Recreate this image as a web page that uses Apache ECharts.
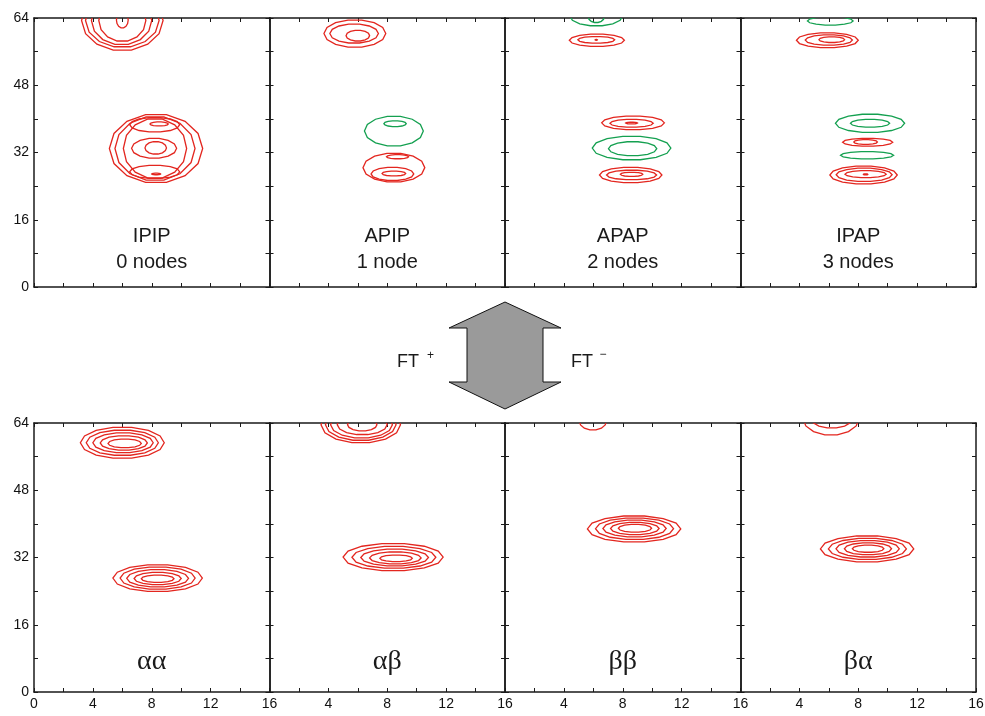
<!DOCTYPE html>
<html>
<head>
<meta charset="utf-8">
<script src="https://cdn.jsdelivr.net/npm/echarts@6/dist/echarts.min.js"></script>
<style>
html,body{margin:0;padding:0;background:#fff;}
#chart{width:985px;height:716px;}
</style>
</head>
<body>
<div id="chart"></div>
<script>
// Panel titles
const topTitles = ['IPIP', 'APIP', 'APAP', 'IPAP'];
const topSubtitles = ['0 nodes', '1 node', '2 nodes', '3 nodes'];
const bottomTitles = ['\u03b1\u03b1', '\u03b1\u03b2', '\u03b2\u03b2', '\u03b2\u03b1'];

// Axis ranges / ticks
const xTickLabels = [0, 4, 8, 12, 16];
const yTickLabels = [0, 16, 32, 48, 64];

// Contour levels per panel: [centre x, centre y, half-width x, half-height y, sign(0=positive red,1=negative green)]
const contoursIPIP = [
  [6.0, 63.4, 2.77, 7.2, 0], [6.0, 63.4, 2.5, 6.4, 0], [5.95, 63.4, 2.05, 5.8, 0], [6.0, 63.4, 1.6, 5.0, 0], [6.0, 63.5, 0.4, 1.9, 0],
  [8.29, 32.95, 3.17, 8.25, 0], [8.22, 32.95, 2.72, 7.7, 0], [8.22, 32.95, 2.15, 7.2, 0],
  [8.2, 38.6, 1.7, 1.75, 0], [8.16, 33.0, 1.53, 2.4, 0], [8.2, 27.4, 1.7, 1.6, 0],
  [8.27, 33.1, 0.73, 1.5, 0], [8.5, 38.8, 0.62, 0.5, 0], [8.3, 26.9, 0.3, 0.2, 0]
];
const contoursAPIP = [
  [5.8, 60.3, 2.1, 3.3, 0], [5.75, 60.3, 1.65, 2.3, 0], [6.0, 59.8, 0.8, 1.3, 0],
  [8.45, 37.1, 2.0, 3.6, 1], [8.53, 38.85, 0.76, 0.7, 1],
  [8.45, 28.4, 2.1, 3.5, 0], [8.7, 31.0, 0.75, 0.5, 0], [8.35, 26.9, 1.45, 1.6, 0], [8.45, 27.0, 0.8, 0.6, 0]
];
const contoursAPAP = [
  [6.2, 64.5, 1.8, 2.4, 1], [6.2, 64.3, 0.55, 1.4, 1],
  [6.24, 58.7, 1.87, 1.5, 0], [6.2, 58.8, 1.25, 0.8, 0], [6.2, 58.8, 0.08, 0.1, 0],
  [8.7, 39.05, 2.13, 1.65, 0], [8.6, 38.95, 1.47, 0.95, 0], [8.6, 39.0, 0.4, 0.2, 0],
  [8.6, 33.05, 2.67, 2.85, 1], [8.67, 32.9, 1.64, 1.7, 1],
  [8.54, 26.65, 2.12, 1.85, 0], [8.6, 26.65, 1.7, 1.15, 0], [8.6, 26.8, 0.76, 0.5, 0]
];
const contoursIPAP = [
  [6.1, 63.3, 1.55, 1.0, 1],
  [5.9, 58.7, 2.1, 1.8, 0], [6.0, 58.75, 1.6, 1.25, 0], [6.2, 58.85, 0.87, 0.7, 0],
  [8.8, 38.95, 2.35, 2.2, 1], [8.8, 38.95, 1.33, 0.95, 1],
  [8.64, 34.45, 1.7, 0.95, 0], [8.5, 34.5, 0.8, 0.6, 0],
  [8.6, 31.35, 1.8, 0.87, 1],
  [8.36, 26.65, 2.29, 2.15, 0], [8.4, 26.7, 1.9, 1.6, 0], [8.5, 26.85, 1.4, 0.85, 0], [8.5, 26.8, 0.15, 0.12, 0]
];
const contoursAA = [
  [6.0, 59.3, 2.85, 3.75, 0], [6.0, 59.3, 2.45, 3.05, 0], [6.05, 59.3, 2.05, 2.4, 0], [6.1, 59.25, 1.6, 1.75, 0], [6.16, 59.15, 1.13, 1.05, 0],
  [8.4, 27.1, 3.04, 3.25, 0], [8.4, 27.1, 2.55, 2.7, 0], [8.4, 27.05, 2.1, 2.1, 0], [8.4, 27.0, 1.6, 1.5, 0], [8.4, 26.95, 1.11, 0.87, 0]
];
const contoursAB = [
  [6.2, 63.6, 2.7, 4.4, 0], [6.2, 63.6, 2.4, 3.8, 0], [6.25, 63.6, 2.1, 3.2, 0], [6.3, 63.6, 1.7, 2.4, 0], [6.3, 63.6, 1.0, 1.5, 0],
  [8.4, 32.1, 3.4, 3.3, 0], [8.45, 32.05, 2.85, 2.65, 0], [8.5, 32.0, 2.3, 2.05, 0], [8.55, 31.9, 1.75, 1.45, 0], [8.6, 31.8, 1.1, 0.8, 0]
];
const contoursBB = [
  [5.97, 64.5, 0.93, 2.2, 0],
  [8.77, 38.8, 3.17, 3.15, 0], [8.8, 38.85, 2.65, 2.6, 0], [8.8, 38.9, 2.15, 2.05, 0], [8.82, 38.9, 1.65, 1.5, 0], [8.83, 38.95, 1.13, 0.95, 0]
];
const contoursBA = [
  [6.15, 65.0, 1.9, 3.9, 0], [6.2, 65.0, 1.4, 2.2, 0],
  [8.6, 34.05, 3.17, 3.15, 0], [8.62, 34.05, 2.65, 2.55, 0], [8.64, 34.07, 2.15, 2.0, 0], [8.66, 34.08, 1.6, 1.45, 0], [8.67, 34.1, 1.07, 0.87, 0]
];

const panels = [contoursIPIP, contoursAPIP, contoursAPAP, contoursIPAP, contoursAA, contoursAB, contoursBB, contoursBA];
const signColors = ['#e3261f', '#14a050'];

const gridLeft = 34, panelW = 235.5, panelH = 269;
const rowTops = [18, 423];
const AX = '#1a1a1a';

const grids = [], xAxes = [], yAxes = [], series = [];
for (let i = 0; i < 8; i++) {
  const row = i < 4 ? 0 : 1, col = i % 4;
  grids.push({left: gridLeft + col * panelW, top: rowTops[row], width: panelW, height: panelH, outerBoundsMode: 'none', containLabel: false});
  const showX = row === 1, showY = col === 0;
  xAxes.push({
    gridIndex: i, type: 'value', min: 0, max: 16, interval: 2, position: 'bottom',
    axisLine: {show: true, onZero: false, lineStyle: {color: AX, width: 1.5}},
    axisTick: {show: true, inside: true, length: 4, lineStyle: {color: AX, width: 1}},
    splitLine: {show: false},
    axisLabel: {show: showX, margin: 5, color: '#111', fontSize: 14, fontFamily: 'Liberation Sans, Arial, sans-serif',
      formatter: function (v) { return (xTickLabels.indexOf(v) >= 0 && (col === 0 || v !== 0)) ? String(v) : ''; }}
  });
  xAxes.push({
    gridIndex: i, type: 'value', min: 0, max: 16, interval: 2, position: 'top',
    axisLine: {show: true, onZero: false, lineStyle: {color: AX, width: 1.5}},
    axisTick: {show: true, inside: true, length: 4, lineStyle: {color: AX, width: 1}},
    splitLine: {show: false}, axisLabel: {show: false}
  });
  yAxes.push({
    gridIndex: i, type: 'value', min: 0, max: 64, interval: 8, position: 'left',
    axisLine: {show: true, onZero: false, lineStyle: {color: AX, width: 1.5}},
    axisTick: {show: true, inside: true, length: 4, lineStyle: {color: AX, width: 1}},
    splitLine: {show: false},
    axisLabel: {show: showY, margin: 5, color: '#111', fontSize: 14, fontFamily: 'Liberation Sans, Arial, sans-serif',
      formatter: function (v) { return yTickLabels.indexOf(v) >= 0 ? String(v) : ''; }}
  });
  yAxes.push({
    gridIndex: i, type: 'value', min: 0, max: 64, interval: 8, position: 'right',
    axisLine: {show: true, onZero: false, lineStyle: {color: AX, width: 1.5}},
    axisTick: {show: true, inside: true, length: 4, lineStyle: {color: AX, width: 1}},
    splitLine: {show: false}, axisLabel: {show: false}
  });
  series.push({
    type: 'custom', xAxisIndex: 2 * i, yAxisIndex: 2 * i, clip: true, silent: true,
    encode: {x: 0, y: 1},
    data: panels[i],
    renderItem: function (params, api) {
      const cx = api.value(0), cy = api.value(1), rx = api.value(2), ry = api.value(3), s = api.value(4);
      const N = 14, pts = [];
      for (let k = 0; k < N; k++) {
        const t = 2 * Math.PI * k / N;
        pts.push(api.coord([cx + rx * Math.cos(t), cy + ry * Math.sin(t)]));
      }
      return {type: 'polygon', shape: {points: pts}, style: {fill: 'none', stroke: signColors[s], lineWidth: 1.3}};
    }
  });
}

const graphics = [];
for (let c = 0; c < 4; c++) {
  const cxp = gridLeft + c * panelW + panelW / 2;
  graphics.push({type: 'text', x: cxp, y: 236, style: {text: topTitles[c], align: 'center', verticalAlign: 'middle', font: '20px "Liberation Sans", Arial, sans-serif', fill: '#1a1a1a'}});
  graphics.push({type: 'text', x: cxp, y: 262, style: {text: topSubtitles[c], align: 'center', verticalAlign: 'middle', font: '20px "Liberation Sans", Arial, sans-serif', fill: '#1a1a1a'}});
  graphics.push({type: 'text', x: cxp, y: 662, style: {text: bottomTitles[c], align: 'center', verticalAlign: 'middle', font: '28px "Liberation Serif", "Times New Roman", serif', fill: '#1a1a1a'}});
}
// double-headed arrow
graphics.push({type: 'polygon', shape: {points: [[505,302],[561,328],[543,328],[543,382],[561,382],[505,409],[449,382],[467,382],[467,328],[449,328]]},
  style: {fill: '#9a9a9a', stroke: '#111', lineWidth: 1}});
graphics.push({type: 'text', x: 397, y: 362, style: {text: 'FT', align: 'left', verticalAlign: 'middle', font: '18px "Liberation Sans", Arial, sans-serif', fill: '#1a1a1a'}});
graphics.push({type: 'text', x: 430.5, y: 356, style: {text: '+', align: 'center', verticalAlign: 'middle', font: '12px "Liberation Sans", Arial, sans-serif', fill: '#1a1a1a'}});
graphics.push({type: 'text', x: 571, y: 362, style: {text: 'FT', align: 'left', verticalAlign: 'middle', font: '18px "Liberation Sans", Arial, sans-serif', fill: '#1a1a1a'}});
graphics.push({type: 'text', x: 603, y: 355, style: {text: '\u2212', align: 'center', verticalAlign: 'middle', font: '12px "Liberation Sans", Arial, sans-serif', fill: '#1a1a1a'}});

const chart = echarts.init(document.getElementById('chart'), null, {renderer: 'canvas'});
chart.setOption({
  animation: false,
  backgroundColor: '#fff',
  grid: grids, xAxis: xAxes, yAxis: yAxes, series: series,
  graphic: graphics
});
</script>
</body>
</html>
